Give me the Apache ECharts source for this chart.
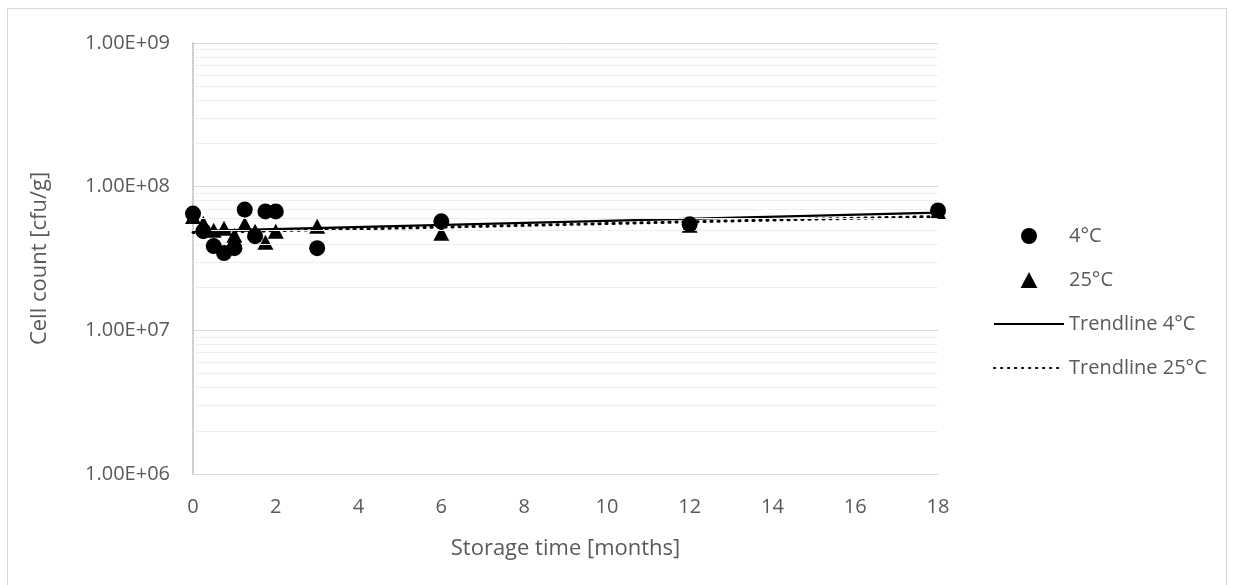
<!DOCTYPE html>
<html>
<head>
<meta charset="utf-8">
<script src="https://cdn.jsdelivr.net/npm/echarts@6/dist/echarts.min.js"></script>
<style>
html,body{margin:0;padding:0;background:#fff;}
#frame{position:absolute;left:7px;top:8px;width:1220px;height:585px;border:1px solid #d9d9d9;box-sizing:border-box;}
#chart{position:absolute;left:0;top:0;width:1235px;height:585px;}
</style>
</head>
<body>
<div id="frame"></div>
<div id="chart"></div>
<script>
const months = [0, 0.25, 0.5, 0.75, 1, 1.25, 1.5, 1.75, 2, 3, 6, 12, 18];
const count4C = [6.5e7, 4.9e7, 3.86e7, 3.45e7, 3.73e7, 6.93e7, 4.52e7, 6.73e7, 6.73e7, 3.73e7, 5.74e7, 5.47e7, 6.83e7];
const count25C = [6.2e7, 5.56e7, 4.98e7, 5.13e7, 4.59e7, 5.47e7, 4.9e7, 4.11e7, 4.9e7, 5.3e7, 4.74e7, 5.38e7, 6.73e7];
const trendMonths = [0, 18];
const trend4C = [4.9e7, 6.6e7];
const trend25C = [4.8e7, 6.2e7];
const xTicks = [0, 2, 4, 6, 8, 10, 12, 14, 16, 18];
const yMajor = [1e6, 1e7, 1e8, 1e9];

const FONT = '"Open Sans", sans-serif';
const TXT = '#595959';

const pairs = (xs, ys) => xs.map((x, i) => [x, ys[i]]);

const minorLines = [];
for (let d = 0; d < yMajor.length - 1; d++) {
  for (let m = 2; m <= 9; m++) minorLines.push({ yAxis: yMajor[d] * m });
}

function fmt(v) {
  const e = Math.round(Math.log10(v));
  const mant = v / Math.pow(10, e);
  return mant.toFixed(2) + 'E+' + (e < 10 ? '0' + e : e);
}

const TRI = 'path://M5,0 L10,9.5 L0,9.5 Z';

const chart = echarts.init(document.getElementById('chart'), null, { renderer: 'canvas' });
chart.setOption({
  animation: false,
  backgroundColor: 'transparent',
  textStyle: { fontFamily: FONT },
  grid: { left: 193, top: 43, right: 297, bottom: 111, containLabel: false },
  legend: {
    orient: 'vertical',
    left: 988,
    top: 221,
    itemWidth: 70,
    itemHeight: 16,
    itemGap: 24,
    symbolKeepAspect: true,
    textStyle: { fontFamily: FONT, fontSize: 20, color: TXT, lineHeight: 16 },
    data: [
      { name: '4°C', icon: 'circle' },
      { name: '25°C', icon: TRI },
      { name: 'Trendline 4°C', itemStyle: { opacity: 0 } },
      { name: 'Trendline 25°C', itemStyle: { opacity: 0 } }
    ]
  },
  xAxis: {
    type: 'value',
    min: 0,
    max: 18,
    interval: 2,
    name: 'Storage time [months]',
    nameLocation: 'middle',
    nameGap: 64,
    nameTextStyle: { fontFamily: FONT, fontSize: 22, color: TXT },
    axisLine: { show: true, onZero: false, lineStyle: { color: '#d9d9d9', width: 1 } },
    axisTick: { show: false },
    splitLine: { show: false },
    axisLabel: { fontFamily: FONT, fontSize: 20, color: TXT, margin: 23,
      formatter: v => (xTicks.indexOf(v) >= 0 ? String(v) : '') }
  },
  yAxis: {
    type: 'log',
    logBase: 10,
    min: 1e6,
    max: 1e9,
    name: 'Cell count [cfu/g]',
    nameLocation: 'middle',
    nameGap: 142,
    nameRotate: 90,
    nameTextStyle: { fontFamily: FONT, fontSize: 22, color: TXT },
    axisLine: { show: true, lineStyle: { color: '#bfbfbf', width: 1.5 } },
    axisTick: { show: false },
    splitLine: { show: true, lineStyle: { color: '#d9d9d9', width: 1 } },
    axisLabel: { fontFamily: FONT, fontSize: 20, color: TXT, margin: 23, formatter: fmt }
  },
  series: [
    {
      name: 'gridMinor',
      type: 'line',
      data: [],
      silent: true,
      markLine: {
        silent: true,
        symbol: ['none', 'none'],
        label: { show: false },
        lineStyle: { color: '#eeeeee', width: 1, type: 'solid' },
        data: minorLines
      },
      z: 0
    },
    {
      name: 'Trendline 4°C',
      type: 'line',
      data: pairs(trendMonths, trend4C),
      symbol: 'none',
      lineStyle: { color: '#000', width: 2.25, type: 'solid' },
      itemStyle: { color: '#000' },
      z: 3
    },
    {
      name: 'Trendline 25°C',
      type: 'line',
      data: pairs(trendMonths, trend25C),
      symbol: 'none',
      lineStyle: { color: '#000', width: 3, type: [1.2, 5.8], cap: 'round' },
      itemStyle: { color: '#000' },
      z: 3
    },
    {
      name: '4°C',
      type: 'scatter',
      data: pairs(months, count4C),
      symbol: 'circle',
      symbolSize: 16,
      itemStyle: { color: '#000', opacity: 1 },
      z: 5
    },
    {
      name: '25°C',
      type: 'scatter',
      data: pairs(months, count25C),
      symbol: 'triangle',
      symbolSize: [16, 15],
      itemStyle: { color: '#000', opacity: 1 },
      z: 4
    }
  ]
});
</script>
</body>
</html>
